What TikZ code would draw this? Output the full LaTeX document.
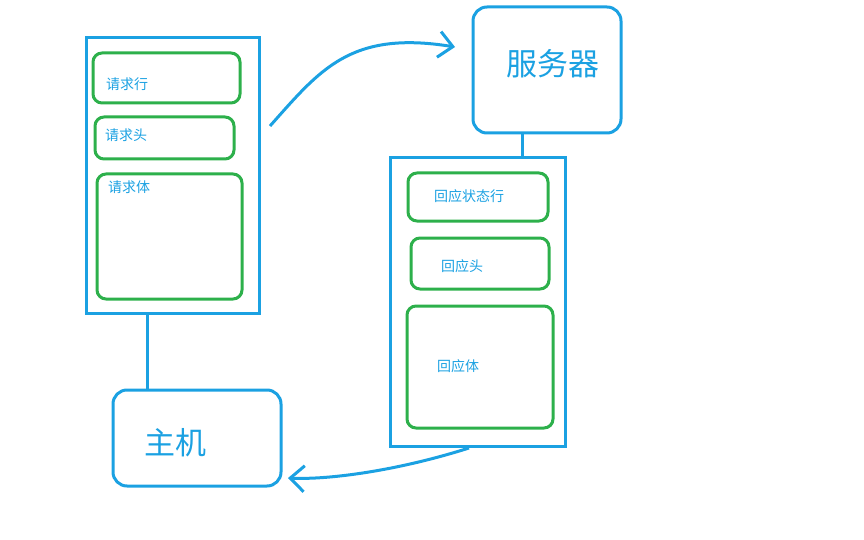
\documentclass[tikz,border=0pt]{standalone}
\usepackage{fontspec}
\setmainfont{Noto Sans CJK SC}
\usetikzlibrary{arrows.meta}
\definecolor{bl}{HTML}{1BA1E2}
\definecolor{gr}{HTML}{2DB04B}
\begin{document}
\begin{tikzpicture}[x=1pt,y=-1pt,
  outer/.style={draw=bl,line width=3pt},
  rbox/.style={draw=bl,line width=3pt,rounded corners=14pt},
  gbox/.style={draw=gr,line width=3pt,rounded corners=9pt},
  lbl/.style={text=bl,font=\fontsize{14}{16}\selectfont,anchor=west,inner sep=0pt},
  big/.style={text=bl,font=\fontsize{31}{34}\selectfont,inner sep=0pt},
  conn/.style={draw=bl,line width=3pt},
  arr/.style={conn,-{Straight Barb[length=14pt,width=26pt,line width=3pt]}}]
\useasboundingbox (0,0) rectangle (864,540);
\draw[outer] (86,38) rectangle (259,313);
\coordinate (lb) at (147,313);
\draw[gbox] (93,53) rectangle (240,103);
\draw[gbox] (95,117) rectangle (234,159);
\draw[gbox] (97,174) rectangle (242,299);
\node[lbl] (t1) at (106,84) {请求行};
\node[lbl] (t2) at (105,135) {请求头};
\node[lbl] (t3) at (108,187) {请求体};
\draw[rbox] (113,390) rectangle (281,486);
\node[big] (host) at (175,443) {主机};
\coordinate (ht) at (147,390);
\draw[conn] (lb) -- (ht);
\draw[rbox] (473,7) rectangle (621,133);
\node[big] (srv) at (553,64) {服务器};
\coordinate (sb) at (522,133);
\draw[outer] (390,158) rectangle (565,446);
\coordinate (rt) at (522,158);
\draw[conn] (sb) -- (rt);
\draw[gbox] (408,173) rectangle (548,221);
\draw[gbox] (411,238) rectangle (549,289);
\draw[gbox] (407,306) rectangle (553,428);
\node[lbl] (r1) at (434,196) {回应状态行};
\node[lbl] (r2) at (441,266) {回应头};
\node[lbl] (r3) at (437,366) {回应体};
\coordinate (a1) at (270,126);
\coordinate (a2) at (455,47);
\draw[arr] (a1) .. controls (320,70) and (350,30) .. (a2);
\coordinate (b1) at (469,448);
\coordinate (b2) at (288,478);
\draw[arr] (b1) .. controls (400,470) and (330,480) .. (b2);
\end{tikzpicture}
\end{document}
